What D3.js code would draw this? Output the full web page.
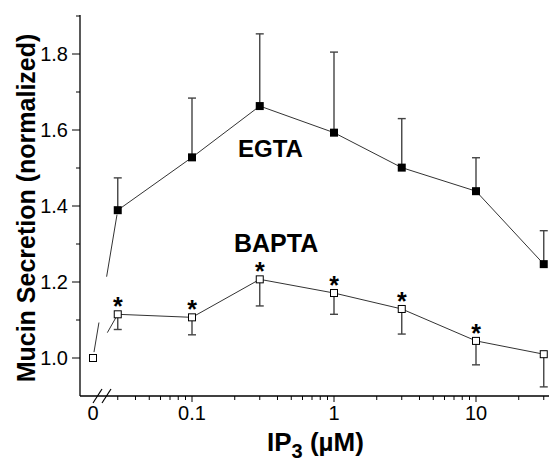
<!DOCTYPE html>
<html>
<head>
<meta charset="utf-8">
<script src="https://cdn.jsdelivr.net/npm/d3@7"></script>
<style>
  body { margin: 0; background: #fff; }
  text { font-family: "Liberation Sans", Arial, sans-serif; fill: #000; }
</style>
</head>
<body>
<script>
// data
var conc = [0, 0.03, 0.1, 0.3, 1, 3, 10, 30];
var egta = [1.0, 1.389, 1.528, 1.663, 1.593, 1.501, 1.439, 1.247];
var egtaErr = [0, 0.085, 0.156, 0.19, 0.212, 0.129, 0.088, 0.088];
var bapta = [1.0, 1.115, 1.107, 1.207, 1.171, 1.129, 1.045, 1.010];
var baptaErr = [0, 0.04, 0.046, 0.07, 0.056, 0.066, 0.063, 0.086];
var signif = [false, true, true, true, true, true, true, false];
var yTicks = [1.0, 1.2, 1.4, 1.6, 1.8];
var yMinor = [1.1, 1.3, 1.5, 1.7, 1.9];
var xTicks = [0.1, 1, 10];
var xMinor = [0.03,0.04,0.05,0.06,0.07,0.08,0.09,0.2,0.3,0.4,0.5,0.6,0.7,0.8,0.9,2,3,4,5,6,7,8,9,20,30];

var w = 550, h = 466;
var pLeft = 80, pBottom = 396, pTop = 16, pRight = 549;
var xZero = 93; // position of the "0" point left of the axis break

var svg = d3.select("body").append("svg").attr("width", w).attr("height", h);

var x = d3.scaleLog().domain([0.1, 10]).range([192, 476]);
var y = d3.scaleLinear().domain([0.9, 1.9]).range([pBottom, pTop]);
function xp(d) { return d === 0 ? xZero : x(d); }

// axes
svg.append("line").attr("x1", pLeft).attr("x2", pLeft).attr("y1", pTop - 1).attr("y2", pBottom)
  .attr("stroke", "#000").attr("stroke-width", 1.3);
svg.append("line").attr("x1", pLeft).attr("x2", pRight).attr("y1", pBottom).attr("y2", pBottom)
  .attr("stroke", "#000").attr("stroke-width", 1.3);

svg.selectAll(".ytick").data(yTicks).enter().append("line")
  .attr("x1", pLeft - 8).attr("x2", pLeft)
  .attr("y1", function(d){ return y(d); }).attr("y2", function(d){ return y(d); })
  .attr("stroke", "#000");
svg.selectAll(".yminor").data(yMinor).enter().append("line")
  .attr("x1", pLeft - 4).attr("x2", pLeft)
  .attr("y1", function(d){ return y(d); }).attr("y2", function(d){ return y(d); })
  .attr("stroke", "#000");
svg.selectAll(".ylab").data(yTicks).enter().append("text")
  .attr("x", pLeft - 12).attr("y", function(d){ return y(d) + 7; })
  .attr("text-anchor", "end").attr("font-size", "20px")
  .text(function(d){ return d3.format(".1f")(d); });

svg.selectAll(".xtick").data(xTicks).enter().append("line")
  .attr("x1", function(d){ return x(d); }).attr("x2", function(d){ return x(d); })
  .attr("y1", pBottom).attr("y2", pBottom + 6).attr("stroke", "#000");
svg.selectAll(".xminor").data(xMinor).enter().append("line")
  .attr("x1", function(d){ return x(d); }).attr("x2", function(d){ return x(d); })
  .attr("y1", pBottom).attr("y2", pBottom + 4).attr("stroke", "#000");
svg.selectAll(".xlab").data([0].concat(xTicks)).enter().append("text")
  .attr("x", function(d){ return xp(d); }).attr("y", pBottom + 24)
  .attr("text-anchor", "middle").attr("font-size", "20px")
  .text(function(d){ return d; });

// axis break marks
[0, 9].forEach(function(o){
  svg.append("line").attr("x1", xZero + o).attr("y1", pBottom + 7)
    .attr("x2", xZero + o + 9).attr("y2", pBottom - 7)
    .attr("stroke", "#000").attr("stroke-width", 1.2);
});

// axis titles
svg.append("text").attr("transform", "translate(35,208) rotate(-90)")
  .attr("text-anchor", "middle").attr("font-size", "25px").attr("font-weight", "bold")
  .text("Mucin Secretion (normalized)");
var xt = svg.append("text").attr("x", 267).attr("y", 451)
  .attr("font-size", "26px").attr("font-weight", "bold");
xt.append("tspan").text("IP");
xt.append("tspan").attr("dy", 7).attr("font-size", "20px").text("3");
xt.append("tspan").attr("dy", -7).text(" (\u00b5M)");

// connecting lines
var line = d3.line().x(function(d){ return xp(d[0]); }).y(function(d){ return y(d[1]); });
var egtaPts = conc.map(function(c, i){ return [c, egta[i]]; });
var baptaPts = conc.map(function(c, i){ return [c, bapta[i]]; });

function partial(p0, p1, t0, t1) {
  var ax = xp(p0[0]), ay = y(p0[1]), bx = xp(p1[0]), by = y(p1[1]);
  svg.append("line")
    .attr("x1", ax + (bx - ax) * t0).attr("y1", ay + (by - ay) * t0)
    .attr("x2", ax + (bx - ax) * t1).attr("y2", ay + (by - ay) * t1)
    .attr("stroke", "#333").attr("stroke-width", 1);
}
// first segments are drawn broken, as in the figure
partial(egtaPts[0], egtaPts[1], 0.04, 0.24);
partial(egtaPts[0], egtaPts[1], 0.55, 0.97);
partial(baptaPts[0], baptaPts[1], 0.58, 0.95);

svg.append("path").datum(egtaPts.slice(1)).attr("d", line)
  .attr("fill", "none").attr("stroke", "#333").attr("stroke-width", 1);
svg.append("path").datum(baptaPts.slice(1)).attr("d", line)
  .attr("fill", "none").attr("stroke", "#333").attr("stroke-width", 1);

// error bars (EGTA up, BAPTA down)
function errBars(vals, errs, dir) {
  conc.forEach(function(c, i){
    if (!errs[i]) return;
    var cx = xp(c), y0 = y(vals[i]), y1 = y(vals[i] + dir * errs[i]);
    svg.append("line").attr("x1", cx).attr("x2", cx).attr("y1", y0).attr("y2", y1)
      .attr("stroke", "#444").attr("stroke-width", 1.4);
    svg.append("line").attr("x1", cx - 4).attr("x2", cx + 4).attr("y1", y1).attr("y2", y1)
      .attr("stroke", "#444").attr("stroke-width", 1.4);
  });
}
errBars(egta, egtaErr, 1);
errBars(bapta, baptaErr, -1);

// markers
var s = 8;
svg.selectAll(".egta").data(egtaPts.slice(1)).enter().append("rect")
  .attr("x", function(d){ return xp(d[0]) - s / 2; })
  .attr("y", function(d){ return y(d[1]) - s / 2; })
  .attr("width", s).attr("height", s).attr("fill", "#000");
svg.selectAll(".bapta").data(baptaPts).enter().append("rect")
  .attr("x", function(d){ return xp(d[0]) - s / 2 + 0.5; })
  .attr("y", function(d){ return y(d[1]) - s / 2 + 0.5; })
  .attr("width", s - 1).attr("height", s - 1)
  .attr("fill", "#fff").attr("stroke", "#000").attr("stroke-width", 1);

// significance stars
svg.selectAll(".star").data(baptaPts.filter(function(d, i){ return signif[i]; }))
  .enter().append("text")
  .attr("x", function(d){ return xp(d[0]); })
  .attr("y", function(d){ return y(d[1]) + 1; })
  .attr("text-anchor", "middle").attr("font-size", "25px").attr("font-weight", "bold")
  .text("*");

// series labels
svg.append("text").attr("x", 238).attr("y", 157).attr("font-size", "24px")
  .attr("font-weight", "bold").text("EGTA");
svg.append("text").attr("x", 234).attr("y", 252).attr("font-size", "25px")
  .attr("font-weight", "bold").text("BAPTA");
</script>
</body>
</html>
